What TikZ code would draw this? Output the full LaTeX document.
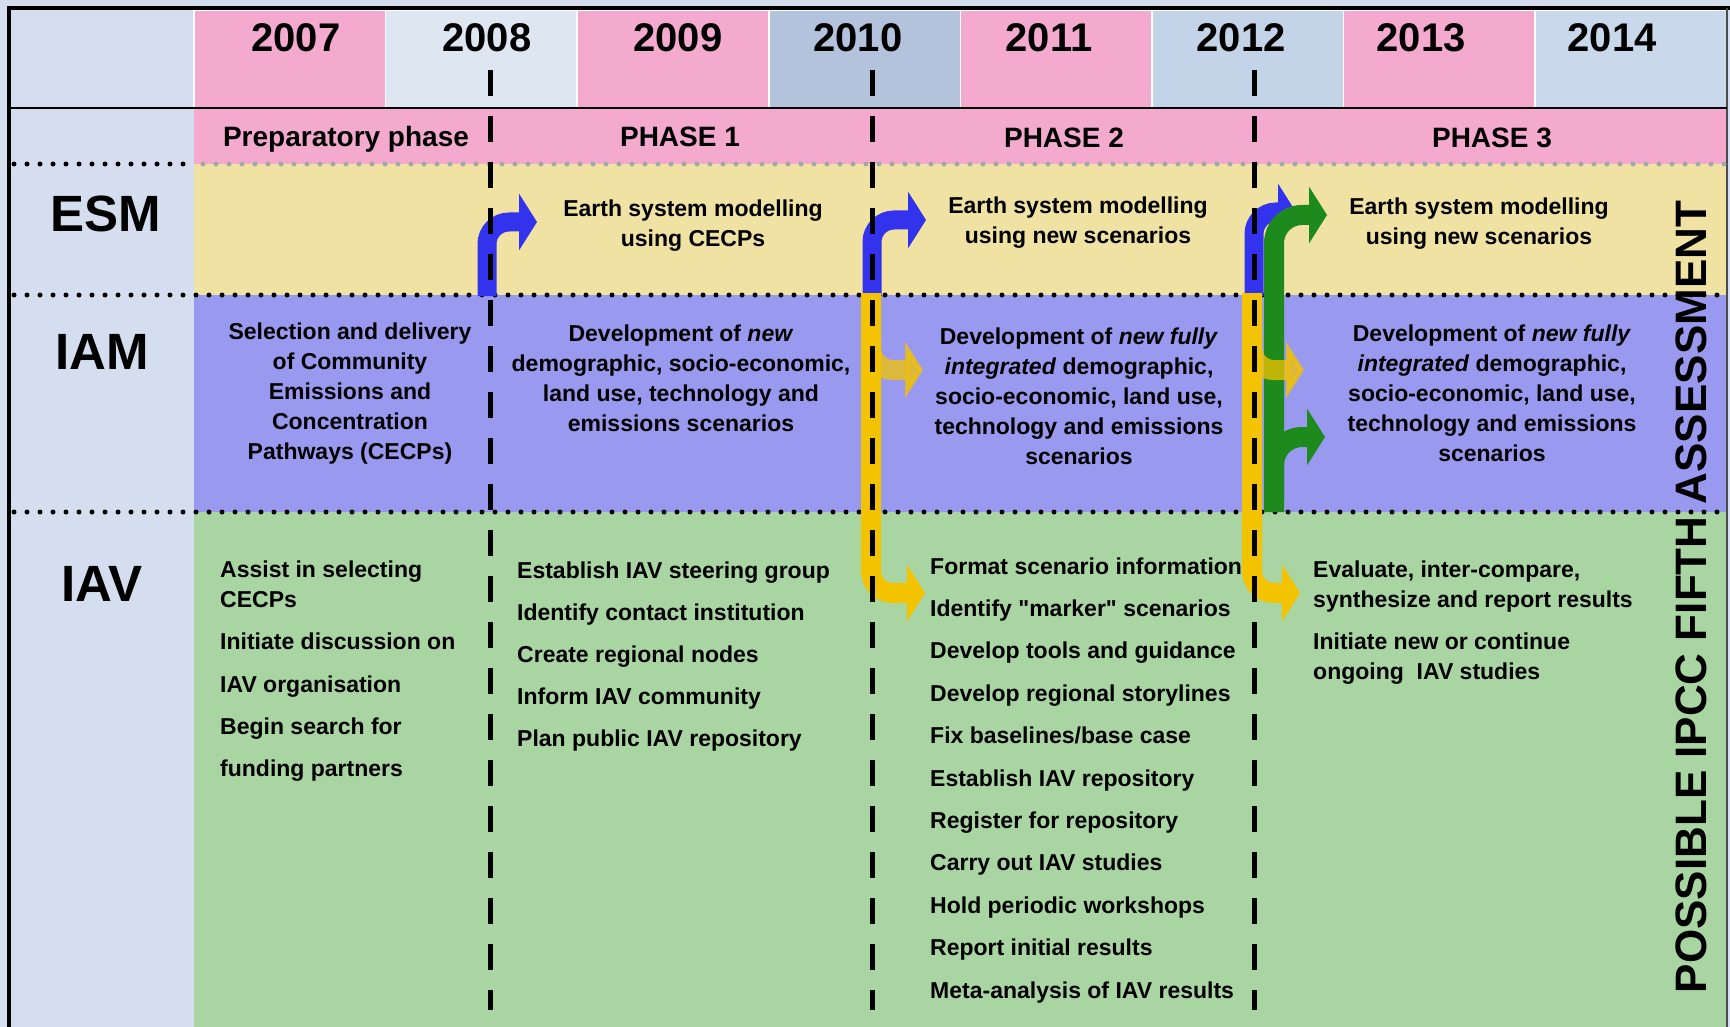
\documentclass[tikz,border=0pt]{standalone}
\usepackage{fontspec}
\setmainfont{Liberation Sans}[Ligatures=TeXOff]
\usepackage{tikz}
\usetikzlibrary{
  arrows.meta,
  positioning,
  calc
}
\definecolor{tlBack}{HTML}{D5DEEF}
\definecolor{tlPink}{HTML}{F4AACF}
\definecolor{tlPale}{HTML}{DEE6F2}
\definecolor{tlSteel}{HTML}{B3C3DC}
\definecolor{tlSky}{HTML}{C3D3E8}
\definecolor{tlSkyLt}{HTML}{C9D8EA}
\definecolor{tlESM}{HTML}{EFE2A3}
\definecolor{tlIAM}{HTML}{9999F0}
\definecolor{tlIAV}{HTML}{A9D5A3}
\definecolor{tlBlue}{HTML}{3333EE}
\definecolor{tlGold}{HTML}{F3C300}
\definecolor{tlGreen}{HTML}{1E8A1E}
\tikzset{
  yearcell/.style={draw=white, line width=1.5pt},
  yearlbl/.style={anchor=base, inner sep=0pt, font=\fontsize{40}{40}\selectfont\bfseries},
  phaselbl/.style={anchor=base, inner sep=0pt, font=\fontsize{28}{28}\selectfont\bfseries},
  rowlbl/.style={anchor=base, inner sep=0pt, font=\fontsize{51}{51}\selectfont\bfseries},
  celltext/.style={anchor=north, inner sep=0pt, align=center, font=\fontsize{23}{30}\selectfont\bfseries},
  itemtext/.style={anchor=base west, inner sep=0pt, font=\fontsize{23}{30}\selectfont\bfseries},
  blocktext/.style={anchor=north west, inner sep=0pt, align=left, font=\fontsize{23}{30}\selectfont\bfseries},
  sidelbl/.style={rotate=90, inner sep=0pt, font=\fontsize{44}{44}\selectfont\bfseries},
  frameline/.style={line width=4pt, black},
  rowrule/.style={line width=5pt, line cap=round, dash pattern=on 0pt off 13pt},
  milestone/.style={line width=5pt, black, dash pattern=on 26pt off 20pt},
  turnarrow/.style={line width=19pt, rounded corners=22pt, -{Triangle[width=56pt, length=18pt]}},
  esmflow/.style={turnarrow, tlBlue},
  iamflow/.style={turnarrow, tlGold, line width=20pt},
  iavflow/.style={turnarrow, tlGreen, line width=20pt, rounded corners=28pt}
}

\begin{document}
\begin{tikzpicture}[x=1pt, y=-1pt]
  \fill[tlBack] (0,0) rectangle (1730,1027);
  \useasboundingbox (0,0) rectangle (1730,1027);

  \foreach \yr/\fillc/\lx [count=\i from 0] in {2007/tlPink/296, 2008/tlPale/487, 2009/tlPink/678, 2010/tlSteel/858, 2011/tlPink/1049, 2012/tlSky/1241, 2013/tlPink/1421, 2014/tlSkyLt/1612}{
    \filldraw[yearcell, fill=\fillc] ({194+191.6*\i},10) rectangle ({194+191.6*(\i+1)},108);
    \node[yearlbl] (y\yr) at (\lx,52) {\yr};
  }
  \fill[tlPink] (194,108) rectangle (1727,164);
  \fill[tlESM] (194,164) rectangle (1727,295);
  \fill[tlIAM] (194,295) rectangle (1727,512);
  \fill[tlIAV] (194,512) rectangle (1727,1027);

  \draw[frameline] (9,1027) -- (9,8) -- (1730,8);
  \draw[line width=2pt, black!70] (1727,8) -- (1727,1027);
  \draw[line width=2.5pt] (9,108) -- (1727,108);
  \draw[rowrule] (14,164) -- (190,164);
  \draw[rowrule, black!35] (203,164) -- (1727,164);
  \draw[rowrule] (14,295) -- (1727,295);
  \draw[rowrule] (14,512) -- (1727,512);

  \node[phaselbl] (prep) at (346,147) {Preparatory phase};
  \node[phaselbl] (ph1) at (680,147) {PHASE 1};
  \node[phaselbl] (ph2) at (1064,148) {PHASE 2};
  \node[phaselbl] (ph3) at (1492,148) {PHASE 3};

  \node[rowlbl] (esm) at (106,232) {ESM};
  \node[rowlbl] (iam) at (102,369) {IAM};
  \node[rowlbl] (iav) at (102,601) {IAV};

  \draw[esmflow] (487,296) -- (487,222) -- (537,222);
  \draw[esmflow] (872,296) -- (872,220) -- (926,220);
  \draw[esmflow] (1254,296) -- (1254,212) -- (1296,212);
  \draw[iavflow] (1274,512) -- (1274,215) -- (1327,215);
  \draw[iavflow] (1274,500) -- (1274,437) -- (1325,437);
  \draw[iamflow] (871,293) -- (871,593) -- (925,593);
  \draw[iamflow, opacity=0.75] (871,335) -- (871,370) -- (923,370);
  \draw[iamflow] (1252,293) -- (1252,593) -- (1300,593);
  \draw[iamflow, opacity=0.75] (1252,335) -- (1252,370) -- (1304,370);

  \foreach \mx in {490,872,1254}
    \draw[milestone] (\mx,70) -- (\mx,1010);

  \node[celltext] (esm1) at (693,200) {Earth system modelling\\using CECPs};
  \node[celltext] (esm2) at (1078,197) {Earth system modelling\\using new scenarios};
  \node[celltext] (esm3) at (1479,198) {Earth system modelling\\using new scenarios};

  \node[celltext] (iam0) at (350,323) {Selection and delivery\\of Community\\Emissions and\\Concentration\\Pathways (CECPs)};
  \node[celltext] (iam1) at (681,325) {Development of \textit{new}\\demographic, socio-economic,\\land use, technology and\\emissions scenarios};
  \node[celltext] (iam2) at (1079,328) {Development of \textit{new fully}\\\textit{integrated} demographic,\\socio-economic, land use,\\technology and emissions\\scenarios};
  \node[celltext] (iam3) at (1492,325) {Development of \textit{new fully}\\\textit{integrated} demographic,\\socio-economic, land use,\\technology and emissions\\scenarios};

  \node[blocktext] (prep-0) at (220,561) {Assist in selecting\\CECPs};
  \foreach \act [count=\k] in {Initiate discussion on, IAV organisation, Begin search for, funding partners}
    \node[itemtext] (prep-\k) at (220,{607.5+42.3*\k}) {\act};

  \foreach \act [count=\k from 0] in {Establish IAV steering group, Identify contact institution, Create regional nodes, Inform IAV community, Plan public IAV repository}
    \node[itemtext] (ph1-\k) at (517,{578+42*\k}) {\act};

  \foreach \act [count=\k from 0] in {Format scenario information, Identify "marker" scenarios, Develop tools and guidance, Develop regional storylines, Fix baselines\slash base case, Establish IAV repository, Register for repository, Carry out IAV studies, Hold periodic workshops, Report initial results, Meta-analysis of IAV results}
    \node[itemtext] (ph2-\k) at (930,{574+42.4*\k}) {\act};

  \node[blocktext] (ph3-0) at (1313,561) {Evaluate, inter-compare,\\synthesize and report results};
  \node[blocktext] (ph3-1) at (1313,633) {Initiate new or continue\\ongoing~ IAV studies};

  \node[sidelbl] (ar5) at (1691,597) {POSSIBLE IPCC FIFTH ASSESSMENT};
\end{tikzpicture}
\end{document}
